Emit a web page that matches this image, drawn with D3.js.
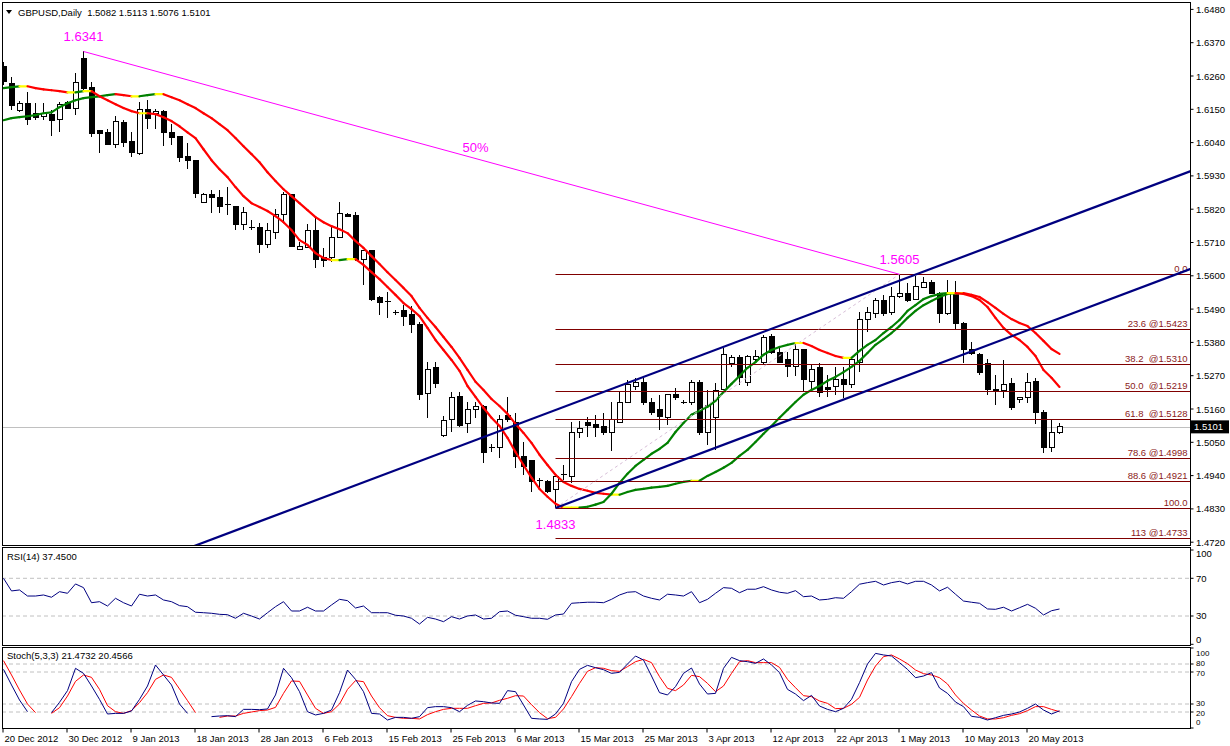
<!DOCTYPE html>
<html><head><meta charset="utf-8">
<script src="https://cdn.jsdelivr.net/npm/d3@7"></script>
<style>
body{margin:0;background:#fff;}
svg{display:block;font-family:"Liberation Sans",Arial,sans-serif;}
</style></head><body>
<svg id="c" width="1230" height="746"></svg>
<script>
const headerText = "GBPUSD,Daily  1.5082 1.5113 1.5076 1.5101";
const rsiTitle = "RSI(14) 37.4500";
const stochTitle = "Stoch(5,3,3) 21.4732 20.4566";
const dateLabels = ["20 Dec 2012","30 Dec 2012","9 Jan 2013","18 Jan 2013","28 Jan 2013","6 Feb 2013","15 Feb 2013","25 Feb 2013","6 Mar 2013","15 Mar 2013","25 Mar 2013","3 Apr 2013","12 Apr 2013","22 Apr 2013","1 May 2013","10 May 2013","20 May 2013"];
const priceTicks = [1.6480,1.6370,1.6260,1.6150,1.6040,1.5930,1.5820,1.5710,1.5600,1.5490,1.5380,1.5270,1.5160,1.5050,1.4940,1.4830,1.4720];

const opens = [1.6292,1.6236,1.6147,1.6170,1.6137,1.6127,1.6134,1.6117,1.6173,1.6154,1.6319,1.6223,1.6081,1.6074,1.6035,1.6107,1.6045,1.6005,1.6150,1.6137,
1.6144,1.6074,1.6061,1.5995,1.5982,1.5843,1.5870,1.5857,1.5834,1.5830,1.5771,1.5761,1.5761,1.5705,1.5744,1.5804,1.5867,1.5688,1.5695,1.5751,
1.5659,1.5662,1.5728,1.5804,1.5800,1.5655,1.5682,1.5527,1.5514,1.5480,1.5484,1.5471,1.5438,1.5210,1.5296,1.5071,1.5124,1.5200,1.5111,1.5157,
1.5167,1.5032,1.5032,1.5137,1.5114,1.5002,1.4989,1.4923,1.4919,1.4893,1.4939,1.4936,1.5081,1.5117,1.5108,1.5101,1.5084,1.5117,1.5183,1.5233,
1.5246,1.5180,1.5157,1.5131,1.5207,1.5183,1.5180,1.5246,1.5081,1.5131,1.5223,1.5309,1.5329,1.5246,1.5325,1.5312,1.5398,1.5348,1.5322,1.5299,
1.5355,1.5250,1.5296,1.5230,1.5233,1.5256,1.5240,1.5312,1.5454,1.5477,1.5520,1.5480,1.5530,1.5543,1.5523,1.5563,1.5579,1.5543,1.5477,1.5543,
1.5444,1.5355,1.5339,1.5309,1.5226,1.5220,1.5243,1.5190,1.5197,1.5250,1.5147,1.5032,1.5082];
const highs = [1.6305,1.6256,1.6177,1.6206,1.6170,1.6170,1.6147,1.6173,1.6177,1.6269,1.6341,1.6239,1.6081,1.6084,1.6127,1.6114,1.6074,1.6173,1.6180,1.6150,
1.6147,1.6101,1.6061,1.6038,1.5982,1.5873,1.5883,1.5883,1.5893,1.5830,1.5827,1.5784,1.5774,1.5774,1.5820,1.5876,1.5870,1.5711,1.5771,1.5797,
1.5692,1.5761,1.5843,1.5806,1.5810,1.5685,1.5685,1.5533,1.5546,1.5487,1.5504,1.5500,1.5447,1.5315,1.5315,1.5137,1.5216,1.5216,1.5183,1.5183,
1.5174,1.5045,1.5141,1.5200,1.5147,1.5051,1.4992,1.4933,1.4926,1.4943,1.4976,1.5117,1.5121,1.5134,1.5141,1.5147,1.5183,1.5216,1.5256,1.5263,
1.5263,1.5197,1.5207,1.5207,1.5230,1.5190,1.5256,1.5256,1.5223,1.5246,1.5362,1.5339,1.5339,1.5339,1.5355,1.5405,1.5408,1.5362,1.5348,1.5381,
1.5355,1.5309,1.5312,1.5273,1.5299,1.5299,1.5322,1.5480,1.5497,1.5527,1.5537,1.5563,1.5605,1.5576,1.5599,1.5596,1.5586,1.5546,1.5586,1.5583,
1.5447,1.5381,1.5345,1.5325,1.5273,1.5322,1.5263,1.5200,1.5279,1.5263,1.5157,1.5127,1.5113];
const lows = [1.6230,1.6147,1.6140,1.6098,1.6114,1.6114,1.6061,1.6074,1.6150,1.6130,1.6206,1.6058,1.6005,1.6032,1.6022,1.6025,1.5992,1.6000,1.6084,1.6084,
1.6028,1.6032,1.5975,1.5952,1.5857,1.5840,1.5807,1.5807,1.5801,1.5751,1.5751,1.5751,1.5675,1.5692,1.5721,1.5774,1.5695,1.5685,1.5695,1.5626,
1.5629,1.5645,1.5725,1.5794,1.5649,1.5570,1.5517,1.5471,1.5461,1.5471,1.5434,1.5411,1.5190,1.5131,1.5230,1.5068,1.5084,1.5101,1.5081,1.5131,
1.4982,1.5018,1.4999,1.5117,1.4966,1.4943,1.4886,1.4893,1.4883,1.4833,1.4926,1.4916,1.5065,1.5068,1.5068,1.5074,1.5022,1.5114,1.5180,1.5223,
1.5174,1.5140,1.5091,1.5108,1.5190,1.5177,1.5174,1.5075,1.5041,1.5025,1.5223,1.5299,1.5240,1.5236,1.5315,1.5305,1.5342,1.5312,1.5266,1.5269,
1.5216,1.5216,1.5200,1.5200,1.5207,1.5197,1.5230,1.5282,1.5414,1.5461,1.5467,1.5471,1.5527,1.5513,1.5520,1.5560,1.5540,1.5444,1.5470,1.5424,
1.5312,1.5339,1.5273,1.5207,1.5174,1.5197,1.5157,1.5180,1.5180,1.5111,1.5015,1.5018,1.5076];
const closes = [1.6243,1.6164,1.6170,1.6117,1.6124,1.6137,1.6114,1.6167,1.6154,1.6239,1.6220,1.6071,1.6071,1.6035,1.6111,1.6041,1.6008,1.6150,1.6121,1.6143,
1.6074,1.6058,1.5992,1.5982,1.5873,1.5867,1.5857,1.5830,1.5833,1.5771,1.5810,1.5761,1.5702,1.5748,1.5804,1.5870,1.5698,1.5698,1.5751,1.5655,
1.5652,1.5728,1.5807,1.5797,1.5655,1.5685,1.5523,1.5513,1.5513,1.5480,1.5467,1.5438,1.5207,1.5292,1.5243,1.5121,1.5197,1.5107,1.5160,1.5167,
1.5015,1.5032,1.5124,1.5124,1.5002,1.4969,1.4919,1.4920,1.4886,1.4936,1.4942,1.5084,1.5094,1.5104,1.5098,1.5084,1.5124,1.5180,1.5240,1.5246,
1.5180,1.5150,1.5134,1.5207,1.5197,1.5183,1.5246,1.5084,1.5170,1.5220,1.5339,1.5329,1.5263,1.5335,1.5332,1.5395,1.5348,1.5315,1.5299,1.5355,
1.5256,1.5292,1.5216,1.5223,1.5256,1.5240,1.5322,1.5454,1.5480,1.5520,1.5477,1.5530,1.5543,1.5520,1.5566,1.5579,1.5543,1.5477,1.5543,1.5444,
1.5358,1.5342,1.5279,1.5226,1.5220,1.5240,1.5164,1.5197,1.5246,1.5147,1.5032,1.5081,1.5101];

const maFast = [1.6220,1.6223,1.6226,1.6226,1.6220,1.6216,1.6213,1.6210,1.6206,1.6206,1.6210,1.6210,1.6193,1.6180,1.6167,1.6154,1.6144,1.6137,1.6137,1.6134,
1.6124,1.6111,1.6094,1.6074,1.6055,1.6018,1.5982,1.5952,1.5926,1.5893,1.5863,1.5840,1.5827,1.5814,1.5797,1.5777,1.5751,1.5718,1.5702,1.5675,
1.5659,1.5652,1.5652,1.5655,1.5655,1.5636,1.5612,1.5589,1.5563,1.5537,1.5510,1.5490,1.5467,1.5428,1.5388,1.5355,1.5322,1.5286,1.5236,1.5200,
1.5164,1.5131,1.5104,1.5065,1.5018,1.4975,1.4933,1.4896,1.4870,1.4847,1.4834,1.4834,1.4834,1.4837,1.4844,1.4853,1.4880,1.4916,1.4946,1.4972,
1.4992,1.5012,1.5028,1.5048,1.5084,1.5114,1.5141,1.5154,1.5167,1.5187,1.5216,1.5243,1.5269,1.5296,1.5315,1.5339,1.5355,1.5365,1.5372,1.5378,
1.5378,1.5368,1.5355,1.5345,1.5335,1.5329,1.5329,1.5352,1.5372,1.5388,1.5411,1.5431,1.5454,1.5484,1.5503,1.5523,1.5533,1.5540,1.5543,1.5543,
1.5540,1.5533,1.5520,1.5497,1.5461,1.5428,1.5405,1.5388,1.5365,1.5335,1.5289,1.5263,1.5233];
const maSlow = [1.6114,1.6121,1.6124,1.6127,1.6131,1.6137,1.6140,1.6157,1.6170,1.6180,1.6187,1.6190,1.6193,1.6197,1.6200,1.6197,1.6193,1.6193,1.6197,1.6200,
1.6200,1.6190,1.6180,1.6167,1.6154,1.6137,1.6121,1.6101,1.6081,1.6055,1.6028,1.6002,1.5975,1.5942,1.5913,1.5886,1.5863,1.5840,1.5817,1.5794,
1.5777,1.5764,1.5754,1.5741,1.5715,1.5692,1.5665,1.5639,1.5612,1.5586,1.5560,1.5533,1.5494,1.5461,1.5431,1.5398,1.5365,1.5329,1.5289,1.5250,
1.5223,1.5193,1.5170,1.5144,1.5111,1.5081,1.5048,1.5009,1.4975,1.4943,1.4919,1.4906,1.4896,1.4890,1.4883,1.4880,1.4877,1.4877,1.4886,1.4893,
1.4896,1.4900,1.4903,1.4906,1.4913,1.4919,1.4923,1.4923,1.4939,1.4952,1.4966,1.4982,1.5005,1.5025,1.5051,1.5078,1.5104,1.5131,1.5157,1.5183,
1.5207,1.5223,1.5236,1.5253,1.5266,1.5282,1.5299,1.5319,1.5345,1.5372,1.5391,1.5411,1.5434,1.5461,1.5484,1.5503,1.5517,1.5530,1.5540,1.5543,
1.5543,1.5537,1.5530,1.5513,1.5494,1.5474,1.5457,1.5444,1.5434,1.5411,1.5385,1.5358,1.5342];

const rsiValues = [70.0,56.6,57.6,51.2,51.2,52.3,49.9,55.8,54.1,64.0,60.1,44.1,45.2,40.6,48.8,44.1,40.6,53.1,51.2,52.3,
47.0,45.2,41.0,39.9,34.0,33.5,32.9,31.8,31.4,27.6,32.9,30.0,26.8,33.5,39.9,45.2,35.3,35.3,39.3,35.3,
35.3,41.7,47.7,46.3,38.5,40.6,33.5,33.5,33.5,30.8,30.0,27.6,21.5,28.6,26.8,24.0,29.3,26.8,30.0,31.1,
26.8,27.6,34.6,35.3,30.8,29.3,27.6,27.6,26.5,31.1,32.1,43.5,44.1,44.6,44.6,44.1,47.7,52.3,55.2,55.8,
51.2,48.8,47.0,53.1,52.3,51.2,55.8,44.1,47.7,54.1,60.1,59.4,54.7,58.4,58.4,61.1,57.6,55.2,54.1,56.9,
50.5,51.2,47.0,47.7,49.4,48.8,55.8,63.7,65.4,66.8,62.9,65.4,66.8,64.0,66.8,66.8,62.9,56.6,60.5,53.1,
45.9,44.6,43.5,37.5,37.1,39.3,35.3,38.8,42.4,38.2,31.1,35.6,37.45];

const stochK = [73.3,53.8,35.0,20.4,null,null,19.2,32.1,46.7,74.6,68.3,52.5,35.8,17.5,18.3,18.3,21.3,35.8,52.5,78.8,
66.3,53.8,30.0,18.3,null,null,14.2,15.0,15.4,14.2,23.3,23.3,22.9,23.8,41.3,74.6,62.9,45.4,20.4,16.3,
18.3,22.5,44.2,72.5,60.8,45.4,18.3,17.5,10.0,13.3,13.3,12.1,14.2,25.4,26.7,26.7,25.4,20.4,28.3,33.8,
32.9,31.3,30.8,46.7,45.4,28.8,12.1,11.3,10.8,17.5,30.8,57.9,73.3,78.3,75.4,72.9,68.3,69.6,80.0,90.0,
85.0,65.0,44.2,41.3,51.7,68.3,75.0,55.0,42.5,43.3,74.6,88.3,84.2,82.9,80.8,86.3,78.8,69.2,48.3,42.5,
34.2,40.8,27.5,23.3,20.4,24.6,35.8,56.7,80.0,93.3,91.3,90.0,81.7,73.3,62.9,65.0,69.2,50.0,43.3,32.5,
26.7,14.6,13.3,10.0,12.9,15.8,17.5,20.0,24.6,30.0,22.5,17.5,21.47];
const stochD = [84.2,66.3,47.5,30.0,19.2,null,18.3,25.4,40.0,58.3,66.3,63.3,48.3,27.9,20.4,18.3,21.7,31.7,44.2,60.8,
66.3,63.3,48.8,34.2,19.2,null,null,13.3,15.0,15.0,18.3,20.0,21.7,22.5,25.8,43.3,58.8,58.3,41.3,24.6,
18.3,20.4,30.0,48.3,59.2,57.9,40.0,25.4,15.4,13.3,12.1,12.1,11.3,16.7,20.4,23.3,24.6,24.6,24.6,27.9,
30.8,31.3,34.6,37.1,40.4,40.0,29.2,19.2,11.7,13.3,23.8,39.2,55.8,70.8,75.4,74.6,71.7,70.8,76.7,82.9,
85.8,81.7,64.2,49.6,46.7,53.8,65.8,64.2,55.8,45.4,52.5,68.3,82.9,84.2,81.7,81.7,81.7,75.8,60.8,50.4,
40.4,39.2,33.8,30.8,24.2,24.6,29.6,38.3,60.0,77.5,89.2,91.3,86.3,80.4,72.5,67.9,66.3,62.9,55.0,41.3,
30.8,22.5,15.0,11.3,11.3,12.9,15.8,17.9,21.7,26.7,26.7,23.3,20.46];

const majorHigh = {bar: 10, price: 1.6341, label: "1.6341"};
const swingHigh = {bar: 112, price: 1.5605, label: "1.5605"};
const swingLow = {bar: 69, price: 1.4833, label: "1.4833"};
const midLabel = "50%";
const channelUpper = [[24, 1.4709], [148, 1.5942]];
const channelLower = [[69, 1.4833], [148, 1.5619]];
const fibLevels = [0, 23.6, 38.2, 50, 61.8, 78.6, 88.6, 100, 113];
const fibLabels = ["0.0","23.6 @1.5423","38.2  @1.5310","50.0  @1.5219","61.8  @1.5128","78.6 @1.4998","88.6 @1.4921","100.0","113 @1.4733"];
const rsiLevels = [70, 30];
const rsiAxis = [100, 70, 30, 0];
const stochLevels = [80, 70, 30, 20];
const stochAxis = [100, 80, 70, 30, 20, 0];

// ---------- layout ----------
const svg = d3.select("#c");
const L = 2, R = 1190.5;
const mainP = {top: 2, bottom: 545.5};
const rsiP = {top: 547.5, bottom: 645.5};
const stP = {top: 647.5, bottom: 728.5};
const FS = 9.5;

const n = closes.length;
const x = d3.scaleLinear().domain([0, n - 1]).range([3.5, 3.5 + 8 * (n - 1)]);
const y = d3.scaleLinear().domain([1.472, 1.648]).range([542.2, 9.4]);
const yR = d3.scaleLinear().domain([0, 100]).range([644.3, 550]);
const yS = d3.scaleLinear().domain([0, 100]).range([728, 648]);

const defs = svg.append("defs");
function addClip(id, p) {
  defs.append("clipPath").attr("id", id).append("rect")
    .attr("x", L).attr("y", p.top).attr("width", R - L).attr("height", p.bottom - p.top);
}
addClip("cm", mainP); addClip("cr", rsiP); addClip("cs", stP);

// ---------- main panel ----------
const gM = svg.append("g").attr("clip-path", "url(#cm)");

gM.append("line").attr("x1", L).attr("x2", R)
  .attr("y1", Math.round(y(closes[n - 1])) + 0.5).attr("y2", Math.round(y(closes[n - 1])) + 0.5)
  .attr("stroke", "#c0c0c0").attr("stroke-width", 1);

const gC = gM.append("g").attr("shape-rendering", "crispEdges");
d3.range(n).forEach(i => {
  const cx = x(i);
  const o = opens[i], c = closes[i];
  gC.append("line").attr("x1", cx).attr("x2", cx).attr("y1", y(highs[i])).attr("y2", y(lows[i]))
    .attr("stroke", "#000").attr("stroke-width", 1);
  const top = y(Math.max(o, c)), bot = y(Math.min(o, c));
  if (bot - top < 1.2) {
    gC.append("line").attr("x1", cx - 3).attr("x2", cx + 3).attr("y1", top).attr("y2", top)
      .attr("stroke", "#000").attr("stroke-width", 1);
  } else {
    gC.append("rect").attr("x", cx - 2.5).attr("y", top).attr("width", 5).attr("height", bot - top)
      .attr("fill", c >= o ? "#fff" : "#000").attr("stroke", "#000").attr("stroke-width", 1);
  }
});

function drawMA(arr) {
  for (let i = 1; i < arr.length; i++) {
    const d = arr[i] - arr[i - 1];
    const col = Math.abs(d) < 0.0001 ? "#ffff00" : (d > 0 ? "#008000" : "#ff0000");
    gM.append("line").attr("x1", x(i - 1)).attr("y1", y(arr[i - 1])).attr("x2", x(i)).attr("y2", y(arr[i]))
      .attr("stroke", col).attr("stroke-width", 2.2).attr("stroke-linecap", "round");
  }
}
drawMA(maSlow);
drawMA(maFast);

const fibRange = swingHigh.price - swingLow.price;
fibLevels.forEach((lv, k) => {
  const p = swingHigh.price - fibRange * lv / 100;
  const yy = Math.round(y(p)) + 0.5;
  gM.append("line").attr("x1", x(swingLow.bar)).attr("x2", R).attr("y1", yy).attr("y2", yy)
    .attr("stroke", "#800000").attr("stroke-width", 1);
  gM.append("text").attr("x", R - 3).attr("y", yy - 2.5).attr("text-anchor", "end")
    .attr("font-size", FS).attr("fill", "#8b1a1a").style("white-space", "pre").text(fibLabels[k]);
});
gM.append("line").attr("x1", x(swingLow.bar)).attr("y1", y(swingLow.price))
  .attr("x2", x(swingHigh.bar)).attr("y2", y(swingHigh.price))
  .attr("stroke", "#d8bfd8").attr("stroke-width", 1).attr("stroke-dasharray", "3,3");

function ray(a, b, fromBar, toBar) {
  const s = (b[1] - a[1]) / (b[0] - a[0]);
  const p0 = a[1] + s * (fromBar - a[0]), p1 = a[1] + s * (toBar - a[0]);
  gM.append("line").attr("x1", x(fromBar)).attr("y1", y(p0)).attr("x2", x(toBar)).attr("y2", y(p1))
    .attr("stroke", "#000080").attr("stroke-width", 2.2);
}
ray(channelUpper[0], channelUpper[1], 0, 150);
ray(channelLower[0], channelLower[1], channelLower[0][0], 150);

gM.append("line").attr("x1", x(majorHigh.bar)).attr("y1", y(majorHigh.price))
  .attr("x2", x(swingHigh.bar)).attr("y2", y(swingHigh.price)).attr("stroke", "#ff00ff").attr("stroke-width", 1);
const mag = (t, xx, yy) => gM.append("text").attr("x", xx).attr("y", yy).attr("text-anchor", "middle")
  .attr("font-size", 13).attr("fill", "#ff00ff").text(t);
mag(majorHigh.label, x(majorHigh.bar), y(majorHigh.price) - 10.5);
mag(swingHigh.label, x(swingHigh.bar), y(swingHigh.price) - 10);
mag(swingLow.label, x(swingLow.bar), y(swingLow.price) + 21);
mag(midLabel, (x(majorHigh.bar) + x(swingHigh.bar)) / 2 - 16, (y(majorHigh.price) + y(swingHigh.price)) / 2 - 11);

svg.append("path").attr("d", "M6,10 L12,10 L9,14 Z").attr("fill", "#000");
svg.append("text").attr("x", 18).attr("y", 16).attr("font-size", FS).attr("fill", "#000")
  .style("white-space", "pre").text(headerText);

// ---------- RSI panel ----------
const gR = svg.append("g").attr("clip-path", "url(#cr)");
rsiLevels.forEach(v => gR.append("line").attr("x1", L).attr("x2", R).attr("y1", yR(v)).attr("y2", yR(v))
  .attr("stroke", "#c0c0c0").attr("stroke-dasharray", "4,3"));
gR.append("path").datum(rsiValues).attr("fill", "none").attr("stroke", "#000080").attr("stroke-width", 1)
  .attr("d", d3.line().x((d, i) => x(i)).y(d => yR(d)));
svg.append("text").attr("x", 7).attr("y", 560).attr("font-size", FS).text(rsiTitle);

// ---------- Stoch panel ----------
const gS = svg.append("g").attr("clip-path", "url(#cs)");
stochLevels.forEach(v => gS.append("line").attr("x1", L).attr("x2", R).attr("y1", yS(v)).attr("y2", yS(v))
  .attr("stroke", "#c0c0c0").attr("stroke-dasharray", "4,3"));
const sl = d3.line().defined(d => d != null).x((d, i) => x(i)).y(d => yS(d));
gS.append("path").datum(stochD).attr("fill", "none").attr("stroke", "#ff0000").attr("stroke-width", 1).attr("d", sl);
gS.append("path").datum(stochK).attr("fill", "none").attr("stroke", "#000080").attr("stroke-width", 1).attr("d", sl);
svg.append("text").attr("x", 7).attr("y", 659).attr("font-size", FS).text(stochTitle);

// ---------- frames ----------
[mainP, rsiP, stP].forEach(p => svg.append("rect").attr("x", L).attr("y", p.top)
  .attr("width", R - L).attr("height", p.bottom - p.top).attr("fill", "none").attr("stroke", "#000").attr("stroke-width", 1)
  .attr("shape-rendering", "crispEdges"));

// ---------- right axes ----------
const gA = svg.append("g").attr("font-size", FS).attr("fill", "#000");
priceTicks.forEach(p => {
  const yy = y(p);
  gA.append("line").attr("x1", R).attr("x2", R + 3).attr("y1", yy).attr("y2", yy).attr("stroke", "#000");
  gA.append("text").attr("x", 1196).attr("y", yy + 3.5).text(p.toFixed(4));
});
const cy = y(closes[n - 1]);
gA.append("rect").attr("x", 1191).attr("y", cy - 6.5).attr("width", 38).attr("height", 13).attr("fill", "#000");
gA.append("text").attr("x", 1194).attr("y", cy + 3.5).attr("fill", "#fff").text(closes[n - 1].toFixed(4));

// sub-panel axis labels: clamp inside panel, then keep a minimum gap between labels
function subAxis(vals, sc, p, fs, gap) {
  const pos = vals.map(v => ({v, t: sc(v), yy: Math.max(p.top + 6, Math.min(p.bottom - 6, sc(v)))}));
  for (let it = 0; it < 20; it++) {
    for (let k = 1; k < pos.length; k++) {
      const d = pos[k].yy - pos[k - 1].yy;
      if (d < gap) { const s = (gap - d) / 2; pos[k - 1].yy -= s; pos[k].yy += s; }
    }
  }
  pos.forEach(o => {
    gA.append("line").attr("x1", R).attr("x2", R + 3).attr("y1", o.t).attr("y2", o.t).attr("stroke", "#000");
    gA.append("text").attr("x", 1196).attr("y", o.yy + fs * 0.36).attr("font-size", fs).text(o.v);
  });
}
subAxis(rsiAxis, yR, rsiP, FS, 10);
subAxis(stochAxis, yS, stP, 8, 9.6);

// ---------- date axis ----------
dateLabels.forEach((t, k) => {
  const xx = x(k * 8);
  gA.append("line").attr("x1", xx - 0.5).attr("x2", xx - 0.5).attr("y1", stP.bottom).attr("y2", stP.bottom + 4).attr("stroke", "#000");
  gA.append("text").attr("x", xx + 1).attr("y", 741.5).text(t);
});
</script>
</body></html>
